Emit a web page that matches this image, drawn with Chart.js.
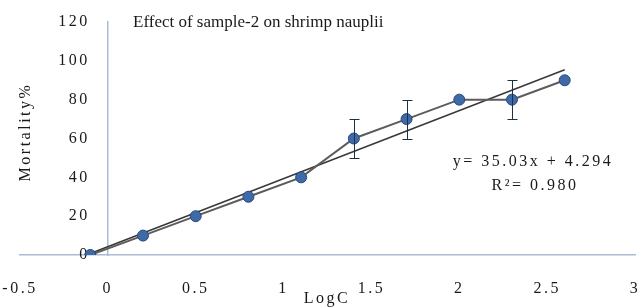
<!DOCTYPE html>
<html>
<head>
<meta charset="utf-8">
<script src="https://cdn.jsdelivr.net/npm/chart.js@4.4.1/dist/chart.umd.min.js"></script>
<style>
    html, body { margin: 0; padding: 0; background: #fff; }
    #wrap { width: 642px; height: 307px; position: relative; }
</style>
</head>
<body>
<div id="wrap"><canvas id="mortalityChart"></canvas></div>
<script>
// chart data
const logC = [-0.1, 0.2, 0.5, 0.8, 1.1, 1.4, 1.7, 2.0, 2.3, 2.6];
const mortality = [0, 10, 20, 30, 40, 60, 70, 80, 80, 90];
const errors = [0, 0, 0, 0, 0, 10, 10, 0, 10, 0];
const trendX = [-0.1, 2.6];
const trendY = [0.8, 95.4];
const xTicks = [-0.5, 0, 0.5, 1, 1.5, 2, 2.5, 3];
const yTicks = [0, 20, 40, 60, 80, 100, 120];
const titleText = "Effect of sample-2 on shrimp nauplii";
const equationText = "y= 35.03x + 4.294";
const r2Text = "R\u00b2= 0.980";
const xTitle = "LogC";
const yTitle = "Mortality%";

const serif = "'Liberation Serif', 'Times New Roman', serif";
const axisColor = "#a9bcd3";
const textColor = "#1a1a1a";
const spacing = "2.5px";

document.addEventListener("DOMContentLoaded", function () {
    const canvas = document.getElementById("mortalityChart");

    const extrasPlugin = {
        id: "extras",
        beforeDraw(chart) {
            // wider letter spacing like the source picture
            chart.ctx.letterSpacing = spacing;
            // y labels sit a little away from the axis at x = 0
            const items = chart.scales.y.getLabelItems();
            if (!chart.scales.y._shifted) {
                items.forEach((it) => { it.options.translation[0] -= 18; });
                chart.scales.y._shifted = true;
            }
        },
        afterDatasetsDraw(chart) {
            // error bars
            const ctx = chart.ctx;
            const xs = chart.scales.x;
            const ys = chart.scales.y;
            ctx.save();
            ctx.strokeStyle = "#1f2f45";
            ctx.lineWidth = 1;
            logC.forEach((x, i) => {
                if (!errors[i]) return;
                const px = Math.round(xs.getPixelForValue(x)) + 0.5;
                const top = Math.round(ys.getPixelForValue(mortality[i] + errors[i])) + 0.5;
                const bot = Math.round(ys.getPixelForValue(mortality[i] - errors[i])) + 0.5;
                ctx.beginPath();
                ctx.moveTo(px, top);
                ctx.lineTo(px, bot);
                ctx.moveTo(px - 5, top);
                ctx.lineTo(px + 5, top);
                ctx.moveTo(px - 5, bot);
                ctx.lineTo(px + 5, bot);
                ctx.stroke();
            });
            ctx.restore();
        },
        afterDraw(chart) {
            const ctx = chart.ctx;
            ctx.save();
            ctx.fillStyle = textColor;
            ctx.textBaseline = "middle";
            ctx.letterSpacing = "0px";
            ctx.font = "17px " + serif;
            ctx.textAlign = "left";
            ctx.fillText(titleText, 133, 23);

            ctx.letterSpacing = spacing;
            ctx.font = "16px " + serif;
            ctx.textAlign = "center";
            ctx.fillText(equationText, 533, 162);
            ctx.fillText(r2Text, 535, 186);

            ctx.fillText(xTitle, 327, 299);
            ctx.translate(26, 132);
            ctx.rotate(-Math.PI / 2);
            ctx.fillText(yTitle, 0, 0);
            ctx.restore();
        }
    };

    new Chart(canvas, {
        type: "scatter",
        data: {
            datasets: [
                {
                    label: "Mortality",
                    data: logC.map((x, i) => ({ x: x, y: mortality[i] })),
                    showLine: true,
                    borderColor: "#5c5c5c",
                    borderWidth: 2,
                    pointRadius: 5.5,
                    pointBackgroundColor: "#3e6aa8",
                    pointBorderColor: "#28497a",
                    pointBorderWidth: 1,
                },
                {
                    label: "Linear",
                    data: trendX.map((x, i) => ({ x: x, y: trendY[i] })),
                    showLine: true,
                    borderColor: "#383838",
                    borderWidth: 1.5,
                    pointRadius: 0,
                },
            ],
        },
        options: {
            responsive: true,
            maintainAspectRatio: false,
            animation: false,
            layout: {
                padding: { left: 20, right: 7, top: 22, bottom: 52 },
            },
            plugins: {
                legend: { display: false },
                tooltip: { enabled: false },
            },
            scales: {
                x: {
                    type: "linear",
                    min: -0.5,
                    max: 3,
                    position: { y: 0 },
                    afterBuildTicks: (scale) => {
                        scale.ticks = xTicks.map((v) => ({ value: v }));
                    },
                    afterFit: (scale) => {
                        scale.paddingLeft = 0;
                        scale.paddingRight = 0;
                    },
                    grid: { display: false, drawTicks: false },
                    border: { display: true, color: axisColor, width: 1.5 },
                    ticks: {
                        padding: 24,
                        color: textColor,
                        font: { family: serif, size: 16 },
                        maxRotation: 0,
                        callback: (v) => String(v),
                    },
                },
                y: {
                    type: "linear",
                    min: 0,
                    max: 120,
                    position: { x: 0 },
                    afterBuildTicks: (scale) => {
                        scale.ticks = yTicks.map((v) => ({ value: v }));
                    },
                    afterFit: (scale) => {
                        scale.paddingTop = 0;
                        scale.paddingBottom = 0;
                    },
                    grid: { display: false, drawTicks: false },
                    border: { display: true, color: axisColor, width: 1.5 },
                    ticks: {
                        color: textColor,
                        font: { family: serif, size: 16 },
                        callback: (v) => String(v),
                    },
                },
            },
        },
        plugins: [extrasPlugin],
    });
});
</script>
</body>
</html>
